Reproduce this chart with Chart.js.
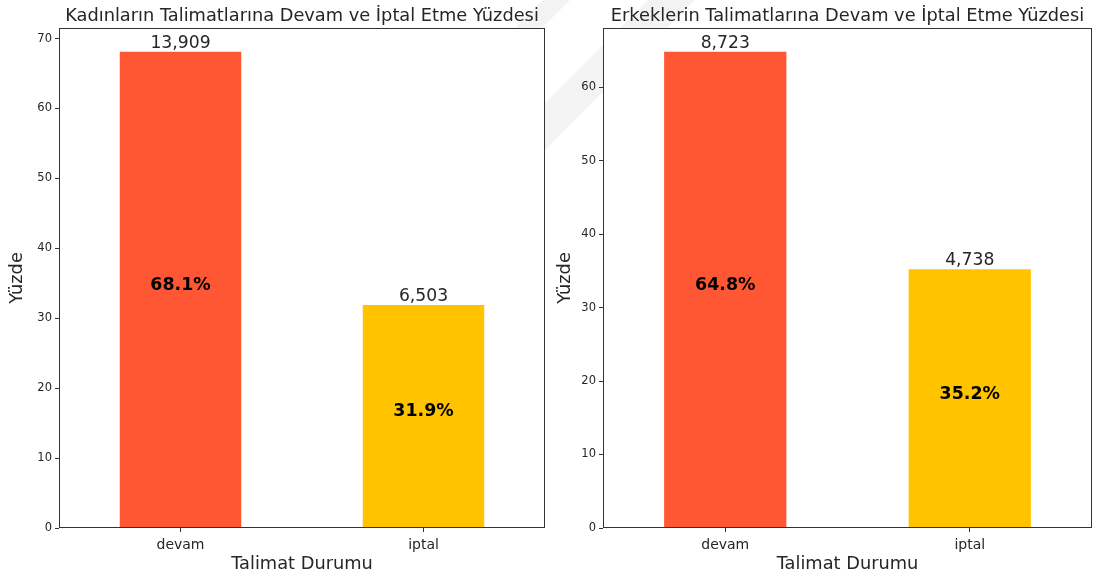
<!DOCTYPE html>
<html>
<head>
<meta charset="utf-8">
<script src="https://cdn.jsdelivr.net/npm/chart.js@4/dist/chart.umd.min.js"></script>
<style>
  html, body { margin: 0; padding: 0; background: #fff; }
  #wrap { position: relative; width: 1097px; height: 579px; overflow: hidden; }
  #band { position: absolute; left: 0; top: 0; }
  .panel { position: absolute; top: 0; height: 579px; }
  #p1 { left: 0; width: 548px; }
  #p2 { left: 548px; width: 549px; }
</style>
</head>
<body>
<div id="wrap">
  <svg id="band" width="1097" height="579">
    <defs>
      <clipPath id="gapClip">
        <polygon points="0,0 1097,0 1097,28 604,28 604,579 545,579 545,28 0,28"/>
      </clipPath>
    </defs>
    <g clip-path="url(#gapClip)" fill="#f3f3f3">
      <polygon points="543,0 570,0 520,50 493,50"/>
      <polygon points="648,0 695,0 545,150 545,103"/>
    </g>
  </svg>
  <div class="panel" id="p1"><canvas id="c1" width="548" height="579"></canvas></div>
  <div class="panel" id="p2"><canvas id="c2" width="549" height="579"></canvas></div>
</div>
<script>
// Talimat durumu kategorileri
const categories = ['devam', 'iptal'];

// Kadınlar: yüzde ve adet
const womenPercent = [68.1, 31.9];
const womenCounts = [13909, 6503];

// Erkekler: yüzde ve adet
const menPercent = [64.8, 35.2];
const menCounts = [8723, 4738];

const yTickStep = 10;
const barColors = ['#FF5733', '#FFC300'];

const FONT = "'DejaVu Sans', sans-serif";
const INK = '#262626';

// Draws the white plot face, title, frame and the value labels
const barAnnotations = {
  id: 'barAnnotations',
  beforeDraw(chart) {
    const { ctx, chartArea: a } = chart;
    ctx.save();
    ctx.fillStyle = '#ffffff';
    ctx.fillRect(a.left, a.top, a.right - a.left, a.bottom - a.top);
    ctx.restore();
  },
  afterDraw(chart) {
    const { ctx, chartArea: a } = chart;
    const opts = chart.options.plugins.barAnnotations;
    const meta = chart.getDatasetMeta(0);
    const yScale = chart.scales.y;
    const values = chart.data.datasets[0].data;
    ctx.save();
    ctx.textAlign = 'center';

    // panel title, centred over the plot area
    ctx.font = '17.8px ' + FONT;
    ctx.fillStyle = INK;
    ctx.textBaseline = 'alphabetic';
    ctx.fillText(opts.title, (a.left + a.right) / 2, 21);

    meta.data.forEach((bar, i) => {
      // count above the bar
      ctx.font = '17.2px ' + FONT;
      ctx.fillStyle = INK;
      ctx.textBaseline = 'alphabetic';
      ctx.fillText(opts.counts[i].toLocaleString('en-US'), bar.x, bar.y - 4);
      // percentage at mid-height of the bar
      ctx.font = 'bold 17.4px ' + FONT;
      ctx.fillStyle = '#000';
      ctx.fillText(values[i].toFixed(1) + '%', bar.x, yScale.getPixelForValue(values[i] / 2));
    });
    // frame on all four sides
    ctx.strokeStyle = '#333';
    ctx.lineWidth = 1;
    ctx.strokeRect(Math.round(a.left) + 0.5, Math.round(a.top) + 0.5,
                   Math.round(a.right - a.left) - 1, Math.round(a.bottom - a.top) - 1);
    ctx.restore();
  }
};

function makeChart(canvasId, titleText, percents, counts, leftWidth, rightPad) {
  const yMax = Math.max(...percents) * 1.05;
  return new Chart(document.getElementById(canvasId), {
    type: 'bar',
    data: {
      labels: categories,
      datasets: [{
        data: percents,
        backgroundColor: barColors,
        borderWidth: 0,
        barPercentage: 0.5,
        categoryPercentage: 1.0
      }]
    },
    options: {
      responsive: false,
      animation: false,
      layout: { padding: { left: 0, right: rightPad, top: 28, bottom: 0 } },
      plugins: {
        legend: { display: false },
        tooltip: { enabled: false },
        title: { display: false },
        barAnnotations: { counts: counts, title: titleText }
      },
      scales: {
        x: {
          offset: true,
          grid: { display: true, offset: false, drawOnChartArea: false, drawTicks: true,
                  tickLength: 4, color: '#333' },
          border: { display: false },
          ticks: { color: INK, font: { family: FONT, size: 14 }, padding: 5 },
          title: { display: true, text: 'Talimat Durumu', color: INK,
                   font: { family: FONT, size: 17.8 }, padding: { top: 0, bottom: 4 } },
          afterFit(scale) { scale.height = 51; }
        },
        y: {
          min: 0,
          max: yMax,
          grid: { display: true, drawOnChartArea: false, drawTicks: true,
                  tickLength: 4, color: '#333' },
          border: { display: false },
          ticks: { stepSize: yTickStep, color: INK, font: { family: FONT, size: 11.5 }, padding: 3 },
          afterBuildTicks(scale) {
            const ticks = [];
            for (let v = 0; v <= yMax + 1e-9; v += yTickStep) ticks.push({ value: v });
            scale.ticks = ticks;
          },
          title: { display: true, text: 'Yüzde', color: INK,
                   font: { family: FONT, size: 17.8 }, padding: { top: 7, bottom: 0 } },
          afterFit(scale) { scale.width = leftWidth; }
        }
      }
    },
    plugins: [barAnnotations]
  });
}

makeChart('c1', 'Kadınların Talimatlarına Devam ve İptal Etme Yüzdesi', womenPercent, womenCounts, 59, 3);
makeChart('c2', 'Erkeklerin Talimatlarına Devam ve İptal Etme Yüzdesi', menPercent, menCounts, 55, 5);
</script>
</body>
</html>
